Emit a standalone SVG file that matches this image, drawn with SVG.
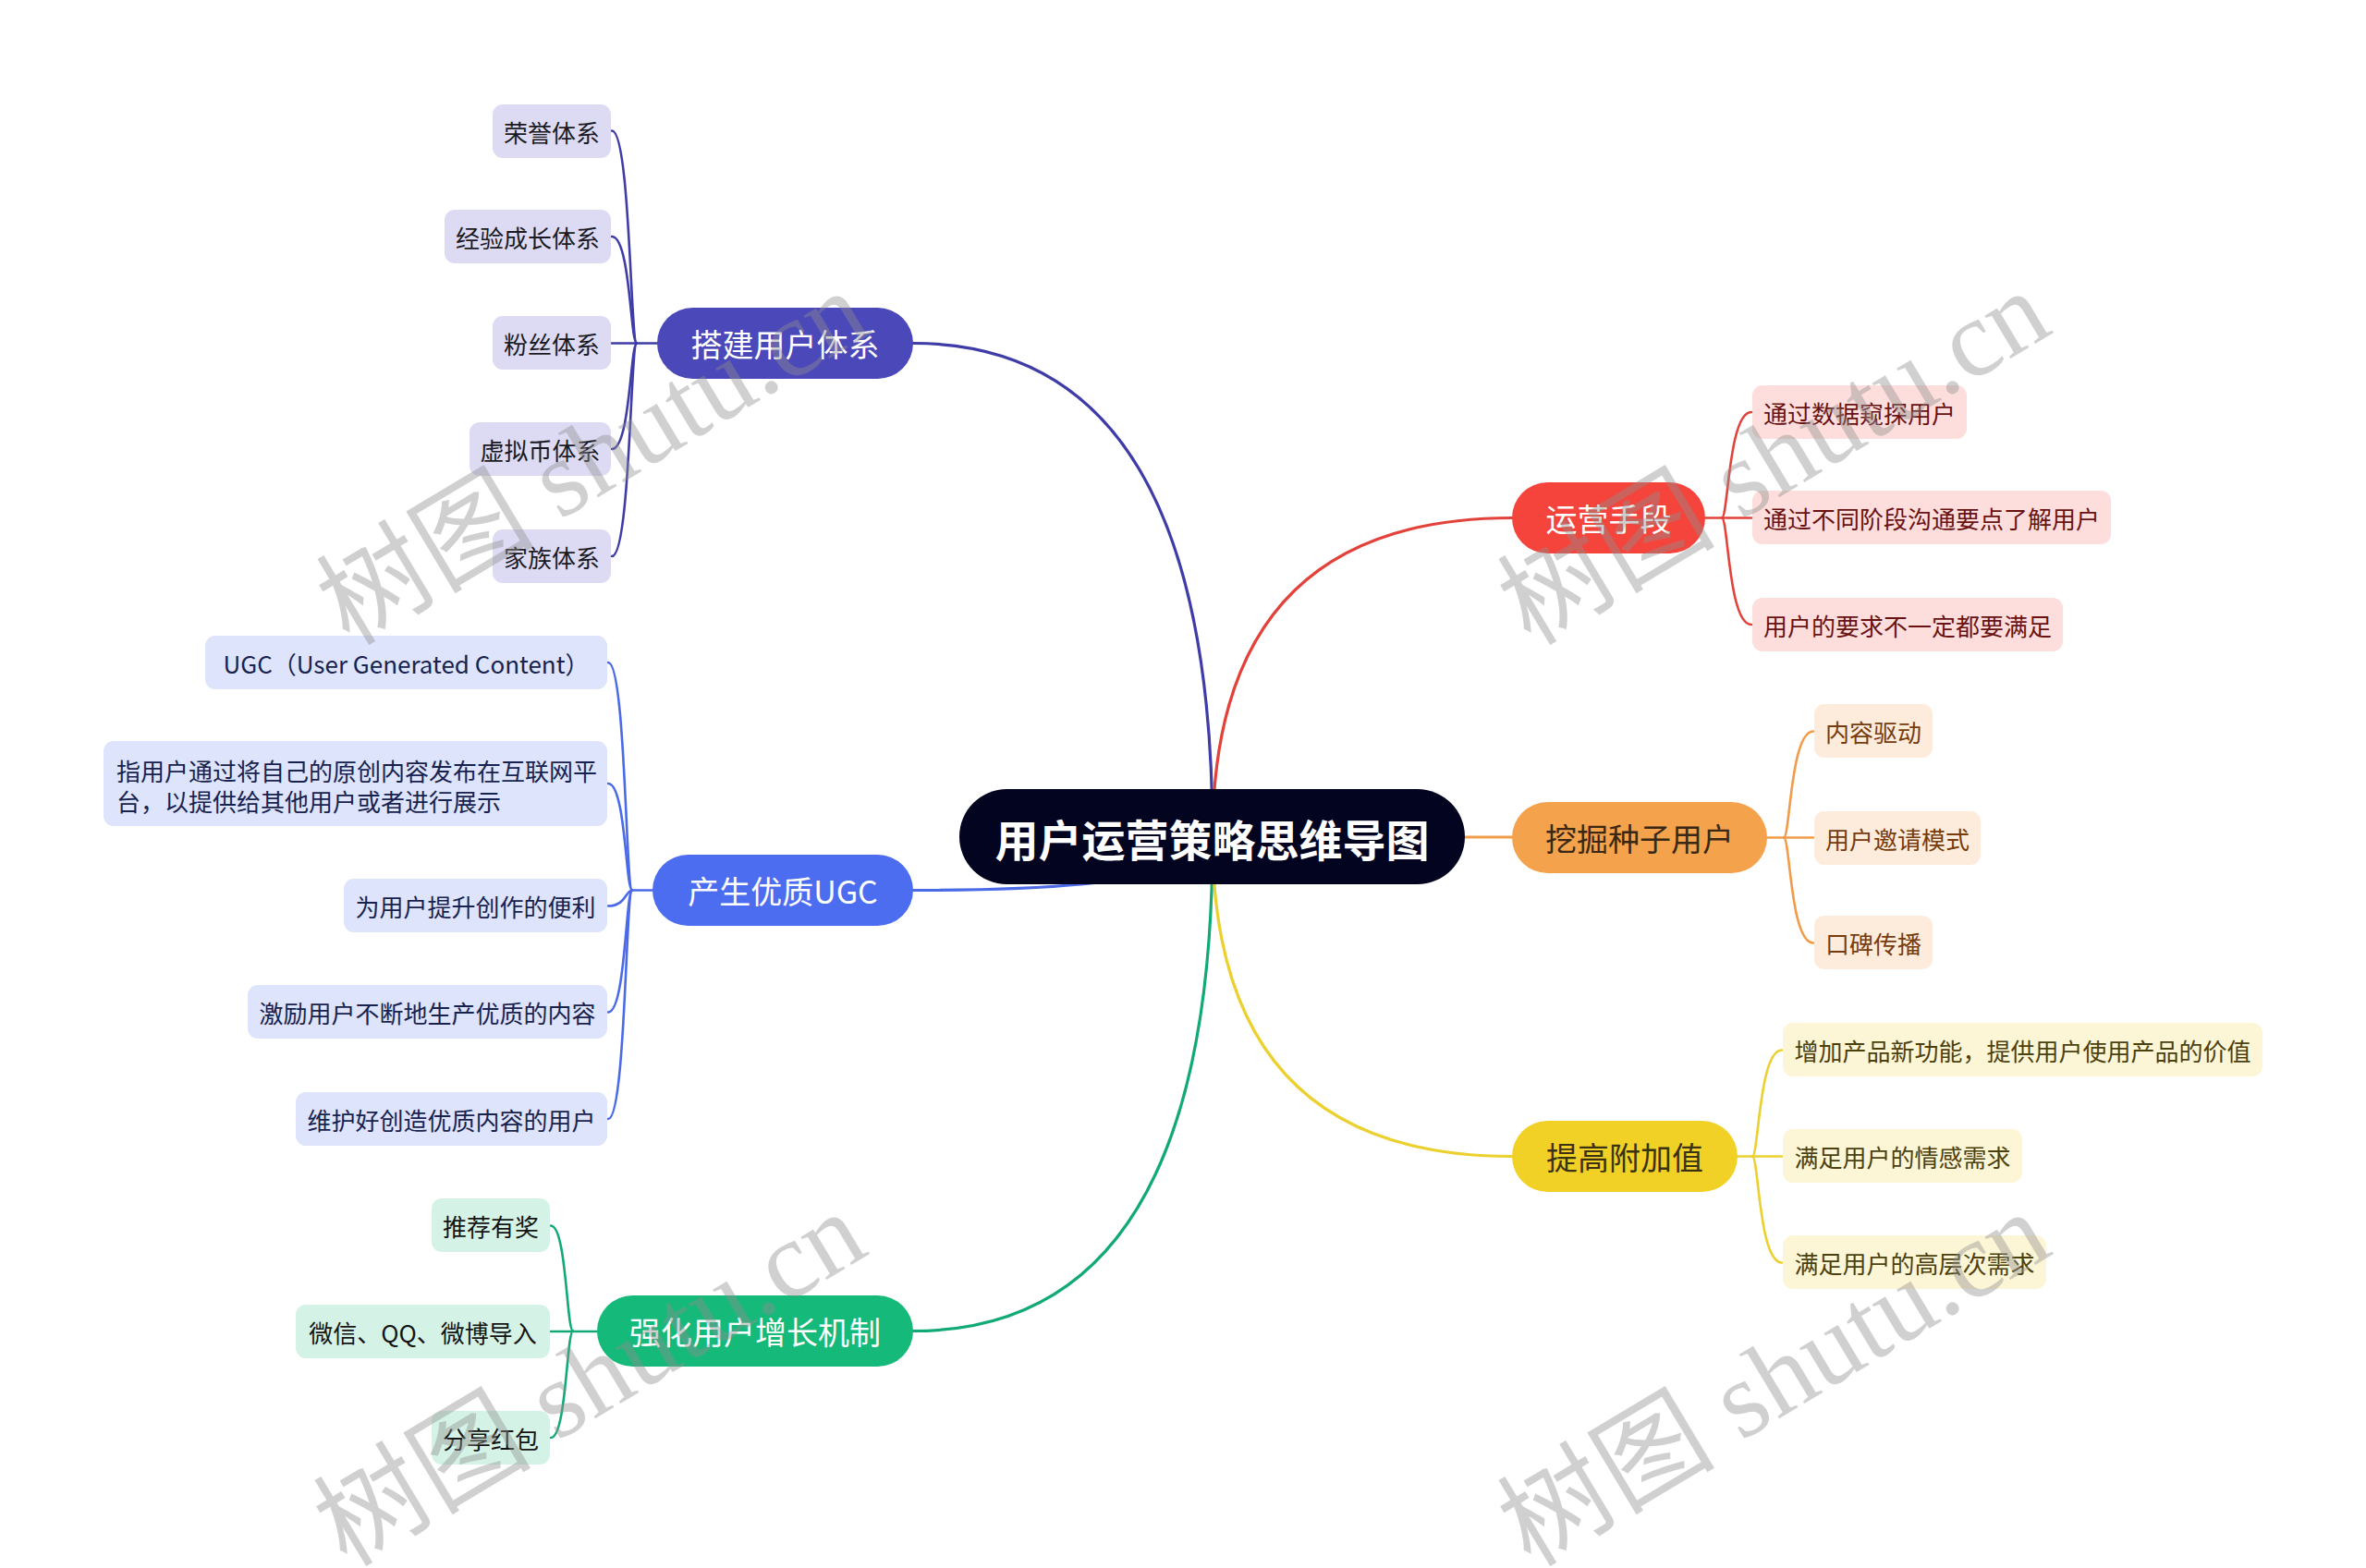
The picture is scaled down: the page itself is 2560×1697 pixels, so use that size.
<svg xmlns="http://www.w3.org/2000/svg" width="2560" height="1697" viewBox="0 0 2560 1697">
<style>
text{font-family:"Noto Sans CJK SC","Microsoft YaHei",sans-serif;}
.c{text-anchor:middle;dominant-baseline:central;}
.t26{font-size:26px;}
.t34{font-size:34px;}
.root{font-size:47px;font-weight:bold;fill:#ffffff;}
.ln{fill:none;stroke-linecap:round;}
.m{stroke-width:3.2;}
.s{stroke-width:2.6;}
.wm{font-family:"Liberation Serif","Noto Sans CJK SC",serif;font-size:118px;fill:#8f8f8f;fill-opacity:0.42;}
</style>
<rect width="2560" height="1697" fill="#ffffff"/>
<g id="connectors">
  <path class="ln m" stroke="#3f3ca8" d="M1312 906 Q1312 371.5 988 371.5"/>
  <path class="ln m" stroke="#4a6ae8" d="M1312 906 Q1312 963.5 988 963.5"/>
  <path class="ln m" stroke="#12aa74" d="M1312 906 Q1312 1440.5 988 1440.5"/>
  <path class="ln m" stroke="#e3423a" d="M1312 906 Q1312 560.5 1636 560.5"/>
  <path class="ln m" stroke="#f09c4a" d="M1312 906 L1636 906"/>
  <path class="ln m" stroke="#ecd02e" d="M1312 906 Q1312 1251.5 1636 1251.5"/>
  <g stroke="#3f3ca8">
    <path class="ln s" d="M662 141.5 C682 141.5 682 371.5 689 371.5"/>
    <path class="ln s" d="M662 256 C682 256 682 371.5 689 371.5"/>
    <path class="ln s" d="M662 371.5 H711"/>
    <path class="ln s" d="M662 486 C682 486 682 371.5 689 371.5"/>
    <path class="ln s" d="M662 602 C682 602 682 371.5 689 371.5"/>
  </g>
  <g stroke="#4a6ae8">
    <path class="ln s" d="M658 717 C677 717 677 963.5 684 963.5"/>
    <path class="ln s" d="M658 848 C677 848 677 963.5 684 963.5"/>
    <path class="ln s" d="M658 980.5 C677 980.5 677 963.5 684 963.5"/>
    <path class="ln s" d="M658 1095.5 C677 1095.5 677 963.5 684 963.5"/>
    <path class="ln s" d="M658 1211 C677 1211 677 963.5 684 963.5"/>
    <path class="ln s" d="M684 963.5 H706"/>
  </g>
  <g stroke="#12aa74">
    <path class="ln s" d="M596 1326.5 C613 1326.5 613 1440.5 620 1440.5"/>
    <path class="ln s" d="M596 1441 H646"/>
    <path class="ln s" d="M596 1556 C613 1556 613 1440.5 620 1440.5"/>
  </g>
  <g stroke="#e3423a">
    <path class="ln s" d="M1895 446 C1870 446 1870 560.5 1863 560.5"/>
    <path class="ln s" d="M1845 560.5 H1895"/>
    <path class="ln s" d="M1895 676 C1870 676 1870 560.5 1863 560.5"/>
  </g>
  <g stroke="#f09c4a">
    <path class="ln s" d="M1962 791.5 C1937 791.5 1937 906.5 1930 906.5"/>
    <path class="ln s" d="M1912 906.5 H1962"/>
    <path class="ln s" d="M1962 1020.5 C1937 1020.5 1937 906.5 1930 906.5"/>
  </g>
  <g stroke="#ecd02e">
    <path class="ln s" d="M1928 1136.5 C1903 1136.5 1903 1251.5 1896 1251.5"/>
    <path class="ln s" d="M1880 1251.5 H1928"/>
    <path class="ln s" d="M1928 1366.5 C1903 1366.5 1903 1251.5 1896 1251.5"/>
  </g>
</g>

<g id="root">
  <rect x="1038" y="854" width="547" height="103" rx="51.5" fill="#03041f"/>
  <text class="c root" x="1311.5" y="906">用户运营策略思维导图</text>
</g>

<g id="n-dajian">
  <rect x="711" y="333" width="277" height="77" rx="38.5" fill="#4b48b9"/>
  <text class="c t34" x="849.5" y="371.5" fill="#ffffff">搭建用户体系</text>
</g>
<g id="n-dajian-1"><rect x="533" y="113" width="128" height="58" rx="11" fill="#dddbf3"/><text class="c t26" x="597" y="142" fill="#1a1a24">荣誉体系</text></g>
<g id="n-dajian-2"><rect x="481" y="227" width="180" height="58" rx="11" fill="#dddbf3"/><text class="c t26" x="571" y="256" fill="#1a1a24">经验成长体系</text></g>
<g id="n-dajian-3"><rect x="533" y="342" width="128" height="58" rx="11" fill="#dddbf3"/><text class="c t26" x="597" y="371.5" fill="#1a1a24">粉丝体系</text></g>
<g id="n-dajian-4"><rect x="508" y="457" width="153" height="58" rx="11" fill="#dddbf3"/><text class="c t26" x="584.5" y="486" fill="#1a1a24">虚拟币体系</text></g>
<g id="n-dajian-5"><rect x="533" y="573" width="128" height="58" rx="11" fill="#dddbf3"/><text class="c t26" x="597" y="602" fill="#1a1a24">家族体系</text></g>

<g id="n-ugc">
  <rect x="706" y="925" width="282" height="77" rx="38.5" fill="#4d6df1"/>
  <text class="c t34" x="847" y="963.5" fill="#ffffff">产生优质UGC</text>
</g>
<g id="n-ugc-1"><rect x="222" y="688" width="435" height="58" rx="11" fill="#dde4fb"/><text class="c t26" x="439.5" y="717" fill="#18224f">UGC（User Generated Content）</text></g>
<g id="n-ugc-2"><rect x="112" y="802" width="545" height="92" rx="11" fill="#dde4fb"/>
  <text class="t26" x="126" y="833" dominant-baseline="central" fill="#18224f">指用户通过将自己的原创内容发布在互联网平</text>
  <text class="t26" x="126" y="866" dominant-baseline="central" fill="#18224f">台，以提供给其他用户或者进行展示</text></g>
<g id="n-ugc-3"><rect x="372" y="951" width="285" height="58" rx="11" fill="#dde4fb"/><text class="c t26" x="514.5" y="980.5" fill="#18224f">为用户提升创作的便利</text></g>
<g id="n-ugc-4"><rect x="268" y="1066" width="389" height="58" rx="11" fill="#dde4fb"/><text class="c t26" x="462.5" y="1095.5" fill="#18224f">激励用户不断地生产优质的内容</text></g>
<g id="n-ugc-5"><rect x="320" y="1182" width="337" height="58" rx="11" fill="#dde4fb"/><text class="c t26" x="488.5" y="1211" fill="#18224f">维护好创造优质内容的用户</text></g>

<g id="n-growth">
  <rect x="646" y="1402" width="342" height="77" rx="38.5" fill="#15b979"/>
  <text class="c t34" x="817" y="1440.5" fill="#ffffff">强化用户增长机制</text>
</g>
<g id="n-growth-1"><rect x="467" y="1297" width="128" height="58" rx="11" fill="#d4f3e6"/><text class="c t26" x="531" y="1326.5" fill="#141414">推荐有奖</text></g>
<g id="n-growth-2"><rect x="320" y="1412" width="275" height="58" rx="11" fill="#d4f3e6"/><text class="c t26" x="457.5" y="1441.5" fill="#141414">微信、QQ、微博导入</text></g>
<g id="n-growth-3"><rect x="467" y="1527" width="128" height="58" rx="11" fill="#d4f3e6"/><text class="c t26" x="531" y="1556" fill="#141414">分享红包</text></g>

<g id="n-ops">
  <rect x="1636" y="522" width="209" height="77" rx="38.5" fill="#f4443b"/>
  <text class="c t34" x="1740.5" y="560.5" fill="#ffffff">运营手段</text>
</g>
<g id="n-ops-1"><rect x="1896" y="417" width="232" height="58" rx="11" fill="#fddedd"/><text class="c t26" x="2012" y="446" fill="#6a1212">通过数据窥探用户</text></g>
<g id="n-ops-2"><rect x="1896" y="531" width="388" height="58" rx="11" fill="#fddedd"/><text class="c t26" x="2090" y="560.5" fill="#6a1212">通过不同阶段沟通要点了解用户</text></g>
<g id="n-ops-3"><rect x="1896" y="647" width="336" height="58" rx="11" fill="#fddedd"/><text class="c t26" x="2064" y="676" fill="#6a1212">用户的要求不一定都要满足</text></g>

<g id="n-seed">
  <rect x="1636" y="868" width="276" height="77" rx="38.5" fill="#f4a24c"/>
  <text class="c t34" x="1774" y="906.5" fill="#3a2814">挖掘种子用户</text>
</g>
<g id="n-seed-1"><rect x="1963" y="762" width="128" height="58" rx="11" fill="#fdebdb"/><text class="c t26" x="2027" y="791.5" fill="#773c0e">内容驱动</text></g>
<g id="n-seed-2"><rect x="1963" y="878" width="180" height="58" rx="11" fill="#fdebdb"/><text class="c t26" x="2053" y="907" fill="#773c0e">用户邀请模式</text></g>
<g id="n-seed-3"><rect x="1963" y="991" width="128" height="58" rx="11" fill="#fdebdb"/><text class="c t26" x="2027" y="1020.5" fill="#773c0e">口碑传播</text></g>

<g id="n-value">
  <rect x="1636" y="1213" width="244" height="77" rx="38.5" fill="#f2d127"/>
  <text class="c t34" x="1758" y="1251.5" fill="#3a3212">提高附加值</text>
</g>
<g id="n-value-1"><rect x="1929" y="1107" width="519" height="58" rx="11" fill="#fdf6d6"/><text class="c t26" x="2188.5" y="1136.5" fill="#4c410e">增加产品新功能，提供用户使用产品的价值</text></g>
<g id="n-value-2"><rect x="1929" y="1222" width="259" height="58" rx="11" fill="#fdf6d6"/><text class="c t26" x="2058.5" y="1251.5" fill="#4c410e">满足用户的情感需求</text></g>
<g id="n-value-3"><rect x="1929" y="1337" width="285" height="58" rx="11" fill="#fdf6d6"/><text class="c t26" x="2071.5" y="1366.5" fill="#4c410e">满足用户的高层次需求</text></g>

<g id="watermarks">
  <text class="wm" x="378" y="700" transform="rotate(-31 378 700)">树图 shutu.cn</text>
  <text class="wm" x="1656" y="700" transform="rotate(-31 1656 700)">树图 shutu.cn</text>
  <text class="wm" x="375" y="1697" transform="rotate(-31 375 1697)">树图 shutu.cn</text>
  <text class="wm" x="1656" y="1697" transform="rotate(-31 1656 1697)">树图 shutu.cn</text>
</g>
</svg>
